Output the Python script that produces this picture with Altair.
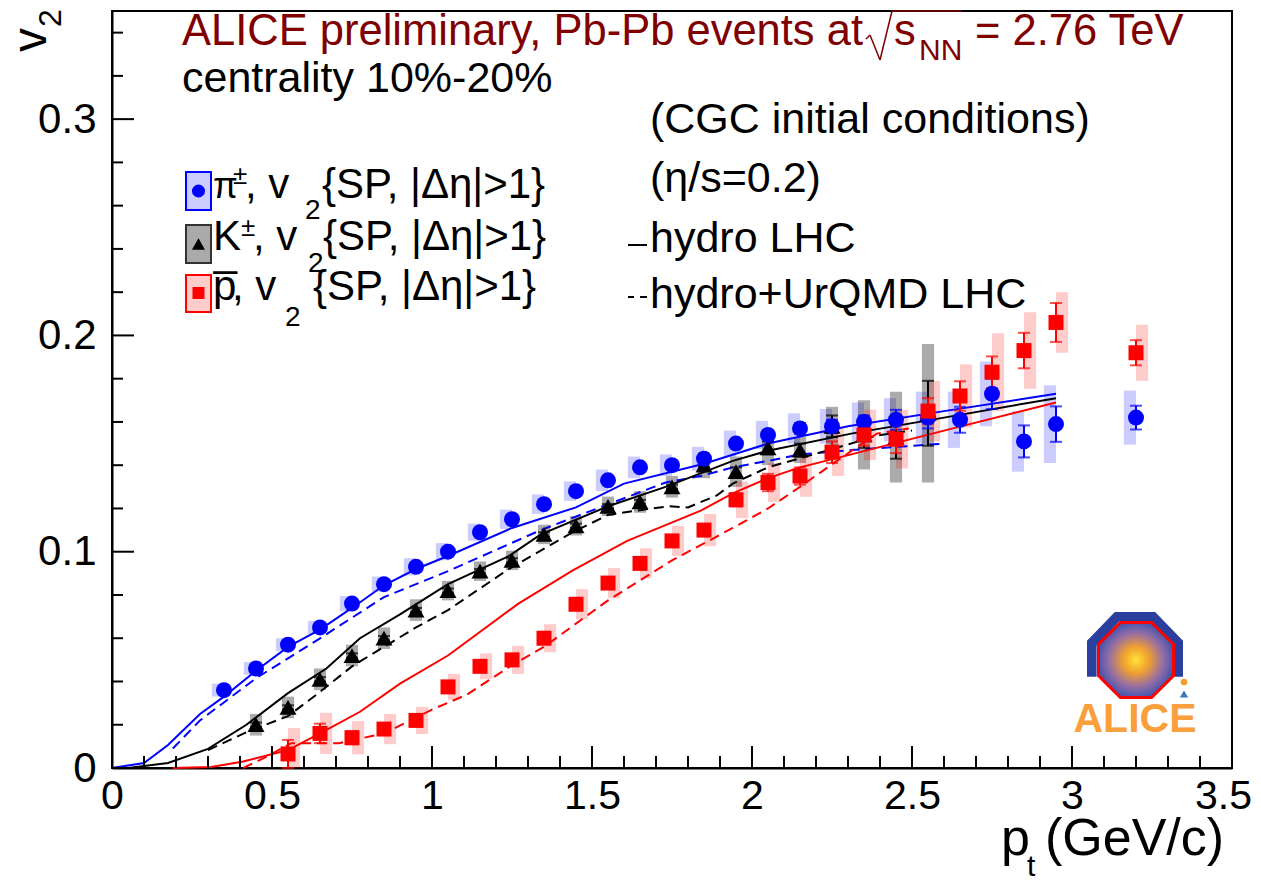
import altair as alt
import pandas as pd

# ---------------- data ----------------
pi_pt = [0.35, 0.45, 0.55, 0.65, 0.75, 0.85, 0.95, 1.05, 1.15, 1.25, 1.35, 1.45, 1.55, 1.65,
         1.75, 1.85, 1.95, 2.05, 2.15, 2.25, 2.35, 2.45, 2.55, 2.65, 2.75, 2.85, 2.95, 3.2]
pi_v2 = [0.036, 0.046, 0.057, 0.065, 0.076, 0.085, 0.093, 0.100, 0.109, 0.115, 0.122, 0.128, 0.133, 0.139,
         0.140, 0.143, 0.150, 0.154, 0.157, 0.158, 0.160, 0.161, 0.162, 0.161, 0.173, 0.151, 0.159, 0.162]
pi_stat = [0.001, 0.001, 0.001, 0.001, 0.001, 0.001, 0.001, 0.001, 0.001, 0.001, 0.001, 0.001, 0.001, 0.0015,
           0.0015, 0.0015, 0.002, 0.002, 0.0025, 0.003, 0.003, 0.0046, 0.005, 0.006, 0.007, 0.0074, 0.0082, 0.0055]
pi_sys = [0.003, 0.003, 0.003, 0.003, 0.0035, 0.0035, 0.004, 0.004, 0.004, 0.0045, 0.0045, 0.0045, 0.005, 0.005,
          0.005, 0.0055, 0.006, 0.0065, 0.007, 0.008, 0.009, 0.010, 0.012, 0.013, 0.015, 0.014, 0.018, 0.0125]

k_pt = [0.45, 0.55, 0.65, 0.75, 0.85, 0.95, 1.05, 1.15, 1.25, 1.35, 1.45, 1.55, 1.65, 1.75,
        1.85, 1.95, 2.05, 2.15, 2.25, 2.35, 2.45, 2.55]
k_v2 = [0.020, 0.028, 0.041, 0.052, 0.060, 0.073, 0.082, 0.091, 0.096, 0.108, 0.112, 0.121, 0.123, 0.130,
        0.140, 0.137, 0.148, 0.147, 0.158, 0.154, 0.153, 0.164]
k_stat = [0.001, 0.001, 0.001, 0.001, 0.001, 0.001, 0.001, 0.001, 0.001, 0.001, 0.001, 0.001, 0.001, 0.001,
          0.001, 0.002, 0.003, 0.003, 0.005, 0.006, 0.010, 0.015]
k_sys = [0.005, 0.005, 0.005, 0.005, 0.005, 0.005, 0.0045, 0.0045, 0.0045, 0.0045, 0.0045, 0.0045, 0.005, 0.005,
         0.006, 0.007, 0.008, 0.006, 0.009, 0.016, 0.021, 0.032]

p_pt = [0.55, 0.65, 0.75, 0.85, 0.95, 1.05, 1.15, 1.25, 1.35, 1.45, 1.55, 1.65, 1.75,
        1.85, 1.95, 2.05, 2.15, 2.25, 2.35, 2.45, 2.55, 2.65, 2.75, 2.85, 2.95, 3.2]
p_v2 = [0.0065, 0.016, 0.014, 0.018, 0.022, 0.0375, 0.047, 0.050, 0.060, 0.0757, 0.0855, 0.0946, 0.105,
        0.110, 0.124, 0.132, 0.135, 0.146, 0.154, 0.152, 0.165, 0.172, 0.183, 0.193, 0.206, 0.192]
p_stat = [0.0065, 0.0045, 0.003, 0.002, 0.002, 0.002, 0.002, 0.002, 0.002, 0.002, 0.002, 0.002, 0.002,
          0.002, 0.003, 0.004, 0.004, 0.005, 0.005, 0.0064, 0.006, 0.0068, 0.0073, 0.0082, 0.009, 0.0058]
p_sys = [0.012, 0.0095, 0.0077, 0.007, 0.0063, 0.006, 0.006, 0.0065, 0.0065, 0.007, 0.007, 0.007, 0.007,
         0.0075, 0.0085, 0.009, 0.0096, 0.011, 0.0117, 0.0135, 0.014, 0.0146, 0.018, 0.0177, 0.014, 0.013]

# hydro curves (solid) and hydro+UrQMD (dashed)
pi_hydro_x = [0.0, 0.1, 0.175, 0.275, 0.35, 0.45, 0.55, 0.65, 0.75, 0.85, 0.95, 1.05, 1.25, 1.45, 1.6, 1.85, 2.05, 2.3, 2.6, 2.95]
pi_hydro_y = [0.0, 0.0023, 0.0106, 0.025, 0.033, 0.045, 0.056, 0.064, 0.074, 0.0845, 0.092, 0.098, 0.111, 0.1205, 0.1315, 0.1407, 0.150, 0.158, 0.165, 0.173]
pi_urqmd_x = [0.19, 0.275, 0.45, 0.64, 0.85, 1.05, 1.34, 1.525, 1.73, 1.84, 1.94, 2.05, 2.15, 2.31, 2.6]
pi_urqmd_y = [0.009, 0.022, 0.0415, 0.059, 0.079, 0.091, 0.110, 0.1205, 0.132, 0.135, 0.139, 0.142, 0.145, 0.147, 0.150]

k_hydro_x = [0.05, 0.175, 0.3, 0.42, 0.55, 0.67, 0.775, 0.9, 1.05, 1.24, 1.34, 1.55, 1.73, 1.94, 2.05, 2.31, 2.6, 2.95]
k_hydro_y = [0.0, 0.0023, 0.0088, 0.020, 0.0346, 0.046, 0.060, 0.071, 0.085, 0.098, 0.108, 0.121, 0.130, 0.142, 0.1467, 0.1546, 0.162, 0.171]
k_urqmd_x = [0.3, 0.42, 0.55, 0.64, 0.75, 0.85, 0.95, 1.05, 1.24, 1.44, 1.55, 1.64, 1.74, 1.80, 1.89, 1.94, 2.05, 2.31, 2.39, 2.5]
k_urqmd_y = [0.0083, 0.0165, 0.024, 0.034, 0.047, 0.056, 0.065, 0.073, 0.092, 0.109, 0.117, 0.119, 0.121, 0.1205, 0.126, 0.1315, 0.139, 0.150, 0.1537, 0.156]

p_hydro_x = [0.19, 0.31, 0.41, 0.55, 0.65, 0.775, 0.9, 1.05, 1.27, 1.44, 1.61, 1.84, 1.94, 2.05, 2.15, 2.31, 2.6, 2.95]
p_hydro_y = [0.0, 0.0005, 0.003, 0.0083, 0.016, 0.026, 0.039, 0.052, 0.076, 0.0914, 0.105, 0.119, 0.127, 0.134, 0.139, 0.145, 0.156, 0.169]
p_urqmd_x = [0.41, 0.48, 0.56, 0.71, 0.85, 1.0, 1.11, 1.24, 1.35, 1.55, 1.75, 1.94, 2.05, 2.15, 2.28, 2.39, 2.49]
p_urqmd_y = [0.0, 0.005, 0.0115, 0.0115, 0.016, 0.027, 0.034, 0.0466, 0.056, 0.0775, 0.096, 0.111, 0.120, 0.130, 0.1435, 0.1546, 0.157]

x_major = [0, 0.5, 1, 1.5, 2, 2.5, 3, 3.5]
x_minor = [0.1, 0.2, 0.3, 0.4, 0.6, 0.7, 0.8, 0.9, 1.1, 1.2, 1.3, 1.4, 1.6, 1.7, 1.8, 1.9,
           2.1, 2.2, 2.3, 2.4, 2.6, 2.7, 2.8, 2.9, 3.1, 3.2, 3.3, 3.4]
y_major = [0, 0.1, 0.2, 0.3]
y_minor = [0.02, 0.04, 0.06, 0.08, 0.12, 0.14, 0.16, 0.18, 0.22, 0.24, 0.26, 0.28, 0.32, 0.34]

# ---------------- layout ----------------
W, H = 1120, 757
X0, Y0 = 112, 11          # plot origin in page pixels
FONT = "Liberation Sans"
BLUE, RED, BLACK, DRED = "#0000ff", "#ff0000", "#000000", "#800000"

xscale = alt.Scale(domain=[0, 3.5], nice=False, zero=False)
yscale = alt.Scale(domain=[0, 0.35], nice=False, zero=False)
xaxis = alt.Axis(values=x_major, format="~g", ticks=False, grid=False, domain=True, domainColor="black",
                 domainWidth=2, labelFont=FONT, labelFontSize=41, labelColor="black", labelPadding=8,
                 labelOffset={"expr": "datum.value == 3.5 ? -9 : 0"},
                 labelFlush=False, labelOverlap=False, title=None)
yaxis = alt.Axis(values=y_major, format="~g", ticks=False, grid=False, domain=True, domainColor="black",
                 domainWidth=2, labelFont=FONT, labelFontSize=42, labelColor="black", labelPadding=16,
                 labelFlush=False, labelOverlap=False, title=None)


def X(f):
    return alt.X(f, type="quantitative", scale=xscale, axis=xaxis)


def Y(f):
    return alt.Y(f, type="quantitative", scale=yscale, axis=yaxis)


def species(pt, v2, stat, sys, b0, b1):
    return pd.DataFrame({
        "pt": pt, "v2": v2,
        "lo": [v - e for v, e in zip(v2, stat)], "hi": [v + e for v, e in zip(v2, stat)],
        "slo": [v - e for v, e in zip(v2, sys)], "shi": [v + e for v, e in zip(v2, sys)],
        "bx1": [x + b0 for x in pt], "bx2": [x + b1 for x in pt],
    })


pi_df = species(pi_pt, pi_v2, pi_stat, pi_sys, -0.038, 0.0)
k_df = species(k_pt, k_v2, k_stat, k_sys, -0.019, 0.019)
p_df = species(p_pt, p_v2, p_stat, p_sys, 0.0, 0.038)


def boxes(df, color, op):
    return alt.Chart(df).mark_rect(color=color, opacity=op, clip=True).encode(
        x=X("bx1"), x2="bx2", y=Y("slo"), y2="shi")


def errs(df, color):
    bar = alt.Chart(df).mark_rule(color=color, strokeWidth=2).encode(x=X("pt"), y=Y("lo"), y2="hi")
    c1 = alt.Chart(df).mark_tick(color=color, orient="horizontal", size=12, thickness=2).encode(x=X("pt"), y=Y("lo"))
    c2 = alt.Chart(df).mark_tick(color=color, orient="horizontal", size=12, thickness=2).encode(x=X("pt"), y=Y("hi"))
    return [bar, c1, c2]


def markers(df, color, shape, size):
    return alt.Chart(df).mark_point(shape=shape, filled=True, size=size, color=color, opacity=1).encode(
        x=X("pt"), y=Y("v2"))


def curve(xs, ys, color, dash=None):
    df = pd.DataFrame({"x": xs, "y": ys, "i": list(range(len(xs)))})
    kw = dict(color=color, strokeWidth=2)
    if dash:
        kw["strokeDash"] = dash
    return alt.Chart(df).mark_line(**kw).encode(x=X("x"), y=Y("y"), order="i:Q")


def ticks(vals, axis, length):
    df = pd.DataFrame({"v": vals})
    if axis == "x":
        return alt.Chart(df).mark_rule(color="black", strokeWidth=2).encode(
            x=X("v"), y=alt.value(H), y2=alt.value(H - length))
    return alt.Chart(df).mark_rule(color="black", strokeWidth=2).encode(
        y=Y("v"), x=alt.value(0), x2=alt.value(length))


_one = pd.DataFrame({"t": [""]})


def T(s, x, y, size=42, color=BLACK, align="left", baseline="alphabetic", angle=0, weight="normal"):
    return alt.Chart(pd.DataFrame({"t": [s]})).mark_text(
        align=align, baseline=baseline, fontSize=size, color=color, font=FONT, angle=angle,
        fontWeight=weight).encode(text="t:N", x=alt.value(x - X0), y=alt.value(y - Y0))


def R(x1, y1, x2, y2, fill, stroke, sw=2, op=1.0):
    return alt.Chart(_one).mark_rect(fill=fill, stroke=stroke, strokeWidth=sw, fillOpacity=op).encode(
        x=alt.value(x1 - X0), x2=alt.value(x2 - X0), y=alt.value(y1 - Y0), y2=alt.value(y2 - Y0))


def Seg(x1, y1, x2, y2, color, sw=2):
    return alt.Chart(_one).mark_rule(color=color, strokeWidth=sw).encode(
        x=alt.value(x1 - X0), x2=alt.value(x2 - X0), y=alt.value(y1 - Y0), y2=alt.value(y2 - Y0))


def S(x, y, shape, size, color, **kw):
    return alt.Chart(_one).mark_point(shape=shape, filled=True, size=size, color=color, opacity=1, **kw).encode(
        x=alt.value(x - X0), y=alt.value(y - Y0))


layers = []
layers += [boxes(pi_df, BLUE, 0.2), boxes(k_df, BLACK, 0.33), boxes(p_df, RED, 0.2)]
layers += [curve(pi_hydro_x, pi_hydro_y, BLUE), curve(pi_urqmd_x, pi_urqmd_y, BLUE, [10, 6]),
           curve(k_hydro_x, k_hydro_y, BLACK), curve(k_urqmd_x, k_urqmd_y, BLACK, [10, 6]),
           curve(p_hydro_x, p_hydro_y, RED), curve(p_urqmd_x, p_urqmd_y, RED, [10, 6])]
layers += errs(k_df, BLACK) + errs(pi_df, BLUE) + errs(p_df, RED)
layers += [markers(k_df, BLACK, "triangle-up", 290), markers(pi_df, BLUE, "circle", 256),
           markers(p_df, RED, "square", 225)]
layers += [ticks(x_major, "x", 22), ticks(x_minor, "x", 12), ticks(y_major, "y", 22), ticks(y_minor, "y", 11)]

# ---- header texts ----
layers += [
    T("ALICE preliminary, Pb-Pb events at", 182, 45, 43.5, DRED),
    Seg(866, 39, 870, 35, DRED, 1.5),
    Seg(870, 35, 880, 60, DRED, 1.5),
    Seg(880, 60, 892, 11, DRED, 1.5),
    Seg(892, 11, 962, 11, DRED, 1.5),
    T("s", 894, 45, 43.5, DRED),
    T("NN", 919, 60, 30, DRED),
    T("= 2.76 TeV", 975, 45, 43.5, DRED),
    T("centrality 10%-20%", 182, 92, 43),
    T("(CGC initial conditions)", 650, 133, 43),
    T("(\u03b7/s=0.2)", 650, 192, 43),
    Seg(628, 245, 647, 245, BLACK, 2),
    T("hydro LHC", 650, 252, 43),
    Seg(628, 297, 634, 297, BLACK, 2),
    Seg(640, 297, 647, 297, BLACK, 2),
    T("hydro+UrQMD LHC", 650, 308, 43),
]

# ---- legend ----
layers += [
    R(186, 172, 211, 210, "#ccccff", BLUE),
    S(198.5, 191, "circle", 170, BLUE),
    R(186, 225, 211, 263, "#aaaaaa", "#333333"),
    S(198.5, 244, "triangle-up", 170, BLACK),
    R(186, 275, 211, 312, "#ffcccc", RED),
    S(198.5, 293, "square", 144, RED),
    T("\u03c0", 213, 198, 36), T("\u00b1", 233, 184, 26), T(", v", 245, 198, 42), T("2", 305, 219, 28),
    T("{SP, |\u0394\u03b7|>1}", 322, 198, 42),
    T("K", 213, 250, 42), T("\u00b1", 241, 236, 26), T(", v", 253, 250, 42), T("2", 308, 272, 28),
    T("{SP, |\u0394\u03b7|>1}", 323, 250, 42),
    T("p\u0305", 213, 300, 42), T(", v", 232, 300, 42), T("2", 285, 326, 28),
    T("{SP, |\u0394\u03b7|>1}", 313, 300, 42),
]

# ---- axis titles ----
layers += [
    T("v", 32, 40, 48, align="center", baseline="middle", angle=270),
    T("2", 51, 18, 32, align="center", baseline="middle", angle=270),
    T("p", 1001, 855, 52), T("t", 1027, 876, 30), T("(GeV/c)", 1045, 855, 52),
]

# ---- ALICE logo (approximation) ----
blue_c = "M -1 0.35 L -1 -0.4 L -0.42 -1 L 0.42 -1 L 1 -0.4 L 1 0.35 L 0.8 0.35 L 0.8 -0.3 L 0.33 -0.8 L -0.33 -0.8 L -0.8 -0.3 L -0.8 0.35 Z"
octagon = "M -0.383 -0.924 L 0.383 -0.924 L 0.924 -0.383 L 0.924 0.383 L 0.383 0.924 L -0.383 0.924 L -0.924 0.383 L -0.924 -0.383 Z"
burst = alt.Gradient(gradient="radial", x1=0.5, y1=0.5, r1=0.0, x2=0.5, y2=0.5, r2=0.5,
                     stops=[alt.GradientStop(color="#ffe135", offset=0.0),
                            alt.GradientStop(color="#f0a030", offset=0.35),
                            alt.GradientStop(color="#9a70a0", offset=0.7),
                            alt.GradientStop(color="#4a56b0", offset=1.0)])
layers += [
    S(1135, 660, blue_c, 96 * 96, "#2b3f9e"),
    alt.Chart(_one).mark_point(shape=octagon, filled=True, size=6600, fill=burst, stroke=RED,
                               strokeWidth=3, opacity=1).encode(x=alt.value(1136 - X0), y=alt.value(660 - Y0)),
    S(1184, 682, "circle", 45, "#f0a030"),
    S(1184, 694, "triangle-up", 70, "#3a78c0"),
    T("ALICE", 1135, 732, 41, "#f9a03c", align="center", weight="bold"),
]

chart = alt.layer(*layers).properties(
    width=W, height=H, autosize="none",
    padding={"left": X0 - 8, "top": Y0 - 8, "right": 21, "bottom": 110},
    background="white",
).configure_view(stroke="black", strokeWidth=2)

chart.save("out.html", embed_options={"renderer": "svg", "actions": False})
